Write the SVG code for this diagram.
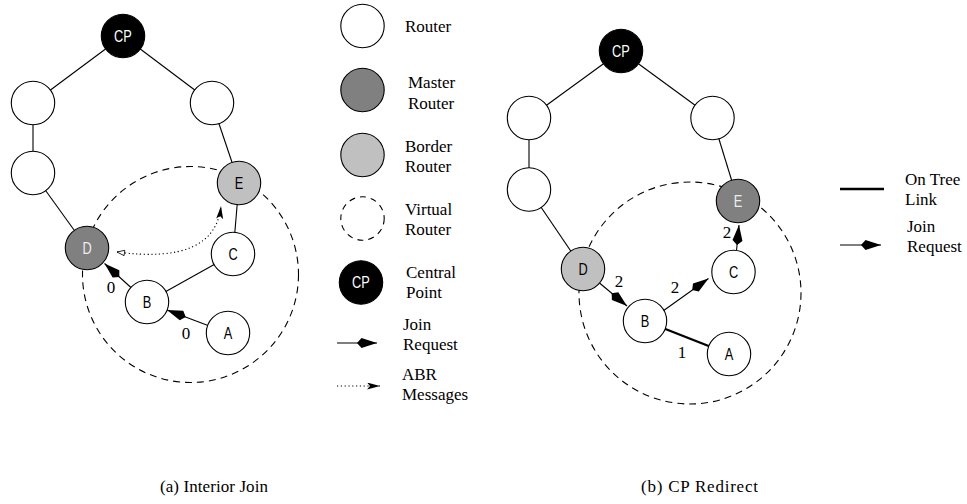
<svg xmlns="http://www.w3.org/2000/svg" width="967" height="504" viewBox="0 0 967 504">
  <style>
    .bg { fill: #ffffff; }
    .node { stroke: #000; stroke-width: 1.1; }
    .router { fill: #ffffff; }
    .master { fill: #808080; }
    .border { fill: #c0c0c0; }
    .cp { fill: #000000; }
    .virtual { fill: none; stroke: #000; stroke-width: 1.1; stroke-dasharray: 7 5; }
    .edge { stroke: #000; stroke-width: 1.1; fill: none; }
    .tree { stroke: #000; stroke-width: 2.4; fill: none; }
    .join { stroke: #000; stroke-width: 1.1; fill: none; marker-end: url(#joinHead); }
    .abr { stroke: #000; stroke-width: 1.1; fill: none; stroke-dasharray: 1.2 2.6; }
    .lbl { font-family: "Liberation Sans", Arial, sans-serif; font-size: 16px; text-anchor: middle; }
    .dark { fill: #000; }
    .light { fill: #eeeeee; }
    .white { fill: #ffffff; }
    .legend { font-family: "Liberation Serif", "Times New Roman", serif; font-size: 17px; fill: #000; }
    .num { font-family: "Liberation Serif", "Times New Roman", serif; font-size: 17px; fill: #000; text-anchor: middle; }
    .caption { font-family: "Liberation Serif", "Times New Roman", serif; font-size: 17px; fill: #000; }
  </style>
  <defs>
    <!-- kite-shaped head used for join requests -->
    <marker id="joinHead" markerUnits="userSpaceOnUse" markerWidth="21" markerHeight="12" refX="20" refY="6" orient="auto">
      <path d="M20,6 L4.5,1 L0,6 L4.5,11 Z" fill="#000"/>
    </marker>
    <!-- notched head for ABR messages -->
    <marker id="abrHead" markerUnits="userSpaceOnUse" markerWidth="14" markerHeight="8" refX="13" refY="3.5" orient="auto">
      <path d="M13,3.5 L0,0 L3,3.5 L0,7 Z" fill="#000"/>
    </marker>
    <!-- open head at the start of the ABR curve -->
    <marker id="abrOpen" markerUnits="userSpaceOnUse" markerWidth="10" markerHeight="8" refX="8.5" refY="3.5" orient="auto-start-reverse">
      <path d="M8.5,3.5 L1,0.8 L1,6.2 Z" fill="#fff" stroke="#000" stroke-width="0.8"/>
    </marker>
  </defs>

  <rect class="bg" x="0" y="0" width="967" height="504"/>

  <!-- ===== (a) Interior Join ===== -->
  <g id="a-virtual">
    <circle class="virtual" cx="190.5" cy="274.5" r="108"/>
  </g>
  <g id="a-connectors">
    <line class="edge" x1="123" y1="36" x2="33" y2="103"/>
    <line class="edge" x1="123" y1="36" x2="212" y2="103"/>
    <line class="edge" x1="33" y1="103" x2="33" y2="173"/>
    <line class="edge" x1="33" y1="173" x2="87" y2="248"/>
    <line class="edge" x1="212" y1="103" x2="239" y2="183"/>
    <line class="edge" x1="239" y1="183" x2="233" y2="254"/>
    <line class="edge" x1="233" y1="254" x2="147" y2="302"/>
    <!-- join requests B->D and A->B -->
    <line class="join" x1="131.5" y1="288" x2="104.5" y2="263.5"/>
    <line class="join" x1="208" y1="325.5" x2="167" y2="310"/>
    <!-- ABR messages between D and E -->
    <path class="abr" d="M117,252 Q215,265 221,206" marker-start="url(#abrOpen)" marker-end="url(#abrHead)"/>
  </g>
  <g id="a-labels">
    <text class="num" x="111" y="293">0</text>
    <text class="num" x="186" y="339">0</text>
  </g>
  <g id="a-cp">
    <circle class="node cp" cx="123" cy="36" r="21.7"/>
    <text class="lbl white" transform="translate(123 41.5) scale(0.8 1)">CP</text>
  </g>
  <g id="a-r1"><circle class="node router" cx="33" cy="103" r="21.7"/></g>
  <g id="a-r2"><circle class="node router" cx="212" cy="103" r="21.7"/></g>
  <g id="a-r3"><circle class="node router" cx="33" cy="173" r="21.7"/></g>
  <g id="a-e">
    <circle class="node border" cx="239" cy="183" r="21.7"/>
    <text class="lbl dark" transform="translate(239 188.5) scale(0.8 1)">E</text>
  </g>
  <g id="a-d">
    <circle class="node master" cx="87" cy="248" r="21.7"/>
    <text class="lbl light" transform="translate(87 253.5) scale(0.8 1)">D</text>
  </g>
  <g id="a-c">
    <circle class="node router" cx="233" cy="254" r="21.7"/>
    <text class="lbl dark" transform="translate(233 259.5) scale(0.8 1)">C</text>
  </g>
  <g id="a-b">
    <circle class="node router" cx="147" cy="302" r="21.7"/>
    <text class="lbl dark" transform="translate(147 307.5) scale(0.8 1)">B</text>
  </g>
  <g id="a-a">
    <circle class="node router" cx="228" cy="333" r="21.7"/>
    <text class="lbl dark" transform="translate(228 338.5) scale(0.8 1)">A</text>
  </g>

  <!-- ===== Legend ===== -->
  <g id="legend-router">
    <circle class="node router" cx="362.5" cy="26" r="21.7"/>
    <text class="legend" x="405" y="32">Router</text>
  </g>
  <g id="legend-master">
    <circle class="node master" cx="362.5" cy="90" r="21.7"/>
    <text class="legend" x="408" y="88">Master</text>
    <text class="legend" x="408" y="109">Router</text>
  </g>
  <g id="legend-border">
    <circle class="node border" cx="362.5" cy="155" r="21.7"/>
    <text class="legend" x="405" y="152">Border</text>
    <text class="legend" x="405" y="172">Router</text>
  </g>
  <g id="legend-virtual">
    <circle class="virtual" cx="362.5" cy="218.5" r="21.7" style="stroke-dasharray:6 5"/>
    <text class="legend" x="405" y="215">Virtual</text>
    <text class="legend" x="405" y="235">Router</text>
  </g>
  <g id="legend-cp">
    <circle class="node cp" cx="361" cy="282.5" r="21.7"/>
    <text class="lbl white" transform="translate(361 288) scale(0.8 1)">CP</text>
    <text class="legend" x="406" y="278">Central</text>
    <text class="legend" x="406" y="298">Point</text>
  </g>
  <g id="legend-join">
    <line class="join" x1="337" y1="343" x2="377" y2="343"/>
    <text class="legend" x="403" y="330">Join</text>
    <text class="legend" x="403" y="350">Request</text>
  </g>
  <g id="legend-abr">
    <line class="abr" x1="337" y1="386" x2="380" y2="386" marker-end="url(#abrHead)"/>
    <text class="legend" x="402" y="380">ABR</text>
    <text class="legend" x="402" y="400">Messages</text>
  </g>

  <!-- ===== (b) CP Redirect ===== -->
  <g id="b-virtual">
    <circle class="virtual" cx="690" cy="293" r="111"/>
  </g>
  <g id="b-connectors">
    <line class="edge" x1="621" y1="51" x2="529" y2="118"/>
    <line class="edge" x1="621" y1="51" x2="712.5" y2="118"/>
    <line class="edge" x1="529" y1="118" x2="529" y2="189.5"/>
    <line class="edge" x1="529" y1="189.5" x2="583" y2="269"/>
    <line class="edge" x1="712.5" y1="118" x2="738" y2="201"/>
    <!-- on-tree link B-A -->
    <line class="tree" x1="645" y1="321" x2="729" y2="354"/>
    <!-- join requests D->B, B->C, C->E -->
    <line class="join" x1="599.5" y1="283" x2="627" y2="306"/>
    <line class="join" x1="663" y1="311" x2="708.5" y2="278.5"/>
    <line class="join" x1="736.5" y1="250.5" x2="739" y2="225"/>
  </g>
  <g id="b-labels">
    <text class="num" x="619" y="287">2</text>
    <text class="num" x="675" y="293">2</text>
    <text class="num" x="727" y="238">2</text>
    <text class="num" x="682" y="358">1</text>
  </g>
  <g id="b-cp">
    <circle class="node cp" cx="621" cy="51" r="21.7"/>
    <text class="lbl white" transform="translate(621 56.5) scale(0.8 1)">CP</text>
  </g>
  <g id="b-r1"><circle class="node router" cx="529" cy="118" r="21.7"/></g>
  <g id="b-r2"><circle class="node router" cx="712.5" cy="118" r="21.7"/></g>
  <g id="b-r3"><circle class="node router" cx="529" cy="189.5" r="21.7"/></g>
  <g id="b-e">
    <circle class="node master" cx="738" cy="201" r="21.7"/>
    <text class="lbl light" transform="translate(738 206.5) scale(0.8 1)">E</text>
  </g>
  <g id="b-d">
    <circle class="node border" cx="583" cy="269" r="21.7"/>
    <text class="lbl dark" transform="translate(583 274.5) scale(0.8 1)">D</text>
  </g>
  <g id="b-c">
    <circle class="node router" cx="733.5" cy="272" r="21.7"/>
    <text class="lbl dark" transform="translate(733.5 277.5) scale(0.8 1)">C</text>
  </g>
  <g id="b-b">
    <circle class="node router" cx="645" cy="321" r="21.7"/>
    <text class="lbl dark" transform="translate(645 326.5) scale(0.8 1)">B</text>
  </g>
  <g id="b-a">
    <circle class="node router" cx="729" cy="354" r="21.7"/>
    <text class="lbl dark" transform="translate(729 359.5) scale(0.8 1)">A</text>
  </g>

  <!-- legend for (b) -->
  <g id="legend-tree">
    <line class="tree" x1="840" y1="189" x2="884" y2="189"/>
    <text class="legend" x="905" y="185">On Tree</text>
    <text class="legend" x="905" y="205">Link</text>
  </g>
  <g id="legend-join-b">
    <line class="join" x1="840" y1="245" x2="881" y2="245"/>
    <text class="legend" x="907" y="232">Join</text>
    <text class="legend" x="907" y="252">Request</text>
  </g>

  <!-- captions -->
  <text class="caption" x="160" y="492" textLength="108" lengthAdjust="spacing">(a) Interior Join</text>
  <text class="caption" x="641" y="492" textLength="117" lengthAdjust="spacing">(b) CP Redirect</text>
</svg>
